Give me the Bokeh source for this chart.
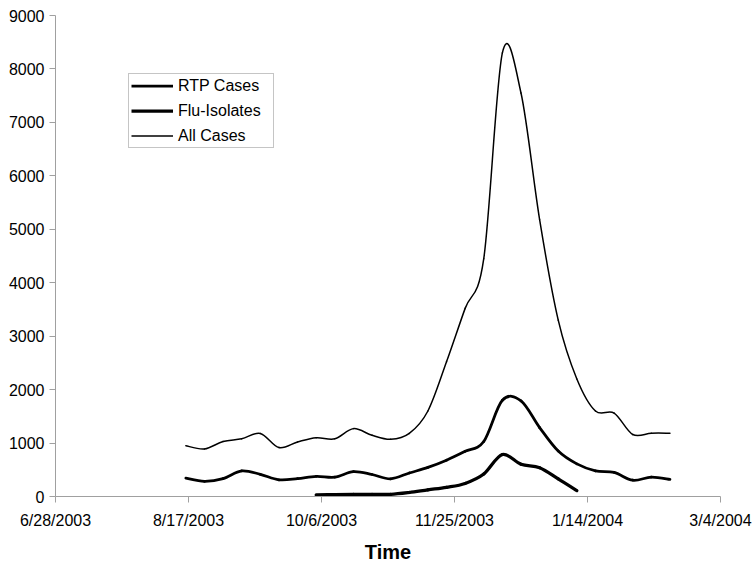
import pandas as pd
from bokeh.plotting import figure
from bokeh.models import Range1d, FixedTicker, ColumnDataSource, Legend, LegendItem
from bokeh.embed import file_html
from bokeh.resources import INLINE

# ---- data (weekly) ----
weeks = ["2003-08-16", "2003-08-23", "2003-08-30", "2003-09-06", "2003-09-13",
         "2003-09-20", "2003-09-27", "2003-10-04", "2003-10-11", "2003-10-18",
         "2003-10-25", "2003-11-01", "2003-11-08", "2003-11-15", "2003-11-22",
         "2003-11-29", "2003-12-06", "2003-12-13", "2003-12-20", "2003-12-27",
         "2004-01-03", "2004-01-10", "2004-01-17", "2004-01-24", "2004-01-31",
         "2004-02-07", "2004-02-14"]
all_cases = [950, 890, 1030, 1080, 1180, 915, 1020, 1100, 1080, 1270, 1145, 1070,
             1180, 1600, 2520, 3520, 4450, 8300, 7550, 5180, 3300, 2200, 1600,
             1560, 1160, 1185, 1185]
rtp_cases = [343, 285, 335, 480, 415, 313, 335, 378, 362, 465, 412, 331, 440,
             545, 680, 845, 1030, 1800, 1790, 1290, 850, 610, 480, 450, 305, 362, 320]
flu_weeks = ["2003-10-04", "2003-10-11", "2003-10-18", "2003-10-25", "2003-11-01",
             "2003-11-08", "2003-11-15", "2003-11-22", "2003-11-29", "2003-12-06",
             "2003-12-13", "2003-12-20", "2003-12-27", "2004-01-03", "2004-01-10"]
flu_isolates = [30, 35, 38, 40, 40, 75, 125, 172, 245, 420, 785, 605, 540, 330, 110]

tick_dates = ["2003-06-28", "2003-08-17", "2003-10-06", "2003-11-25", "2004-01-14", "2004-03-04"]
tick_labels = ["6/28/2003", "8/17/2003", "10/6/2003", "11/25/2003", "1/14/2004", "3/4/2004"]
y_ticks = [0, 1000, 2000, 3000, 4000, 5000, 6000, 7000, 8000, 9000]

FONT = "Liberation Sans"


def to_ms(dates):
    return [int(pd.Timestamp(d).value // 10**6) for d in dates]


def smooth_source(dates, vals):
    """Catmull-Rom style smoothing (like a spreadsheet 'smoothed line'),
    expressed as cubic Bezier segments in data space."""
    xs = to_ms(dates)
    ys = [float(v) for v in vals]
    n = len(xs)
    d = dict(x0=[], y0=[], x1=[], y1=[], cx0=[], cy0=[], cx1=[], cy1=[])
    for i in range(n - 1):
        xp, yp = (xs[i - 1], ys[i - 1]) if i > 0 else (xs[i], ys[i])
        xn, yn = (xs[i + 2], ys[i + 2]) if i + 2 < n else (xs[i + 1], ys[i + 1])
        d["x0"].append(xs[i]); d["y0"].append(ys[i])
        d["x1"].append(xs[i + 1]); d["y1"].append(ys[i + 1])
        d["cx0"].append(xs[i] + (xs[i + 1] - xp) / 6.0)
        d["cy0"].append(ys[i] + (ys[i + 1] - yp) / 6.0)
        d["cx1"].append(xs[i + 1] - (xn - xs[i]) / 6.0)
        d["cy1"].append(ys[i + 1] - (yn - ys[i]) / 6.0)
    return ColumnDataSource(d)


tick_ms = to_ms(tick_dates)

p = figure(frame_width=665, frame_height=481,
           x_axis_type="datetime",
           x_range=Range1d(tick_ms[0], tick_ms[-1]),
           y_range=Range1d(y_ticks[0], y_ticks[-1]),
           output_backend="svg", toolbar_location=None,
           min_border_left=55, min_border_right=34, min_border_top=15,
           min_border_bottom=10)
p.outline_line_color = None
p.grid.visible = False
p.background_fill_color = "white"

styles = [
    ("RTP Cases", weeks, rtp_cases, 2.75),
    ("Flu-Isolates", flu_weeks, flu_isolates, 3.25),
    ("All Cases", weeks, all_cases, 1.5),
]
items = []
nan = float("nan")
for label, dts, vals, w in styles:
    src = smooth_source(dts, vals)
    p.bezier(x0="x0", y0="y0", x1="x1", y1="y1", cx0="cx0", cy0="cy0",
             cx1="cx1", cy1="cy1", source=src, line_color="black",
             line_width=w, line_cap="round", line_join="round")
    key = p.line(x=[nan, nan], y=[nan, nan], line_color="black", line_width=w)
    items.append(LegendItem(label=label, renderers=[key]))

legend = Legend(items=items, location=(73, 348))
legend.border_line_color = "#8c8c8c"
legend.border_line_width = 1
legend.background_fill_color = "white"
legend.background_fill_alpha = 1.0
legend.label_text_font = FONT
legend.label_text_font_size = "16px"
legend.label_text_color = "black"
legend.glyph_width = 42
legend.glyph_height = 19
legend.label_height = 19
legend.label_width = 93
legend.label_standoff = 5
legend.padding = 2
legend.spacing = 6
legend.margin = 0
p.add_layout(legend)

# x axis
xa = p.xaxis[0]
xa.ticker = FixedTicker(ticks=tick_ms)
xa.major_label_overrides = {t: l for t, l in zip(tick_ms, tick_labels)}
xa.axis_label = "Time"
xa.axis_label_text_font = FONT
xa.axis_label_text_font_size = "20px"
xa.axis_label_text_font_style = "bold"
xa.axis_label_text_color = "black"
xa.axis_label_standoff = 9
xa.major_label_standoff = 9
xa.major_label_text_font = FONT
xa.major_label_text_font_size = "16px"
xa.major_label_text_color = "black"

# y axis
ya = p.yaxis[0]
ya.ticker = FixedTicker(ticks=y_ticks)
ya.major_label_standoff = 5
ya.major_label_text_font = FONT
ya.major_label_text_font_size = "16px"
ya.major_label_text_color = "black"

for ax in (xa, ya):
    ax.axis_line_color = "#a0a0a0"
    ax.axis_line_width = 1
    ax.major_tick_line_color = "#a0a0a0"
    ax.major_tick_in = 0
    ax.major_tick_out = 6
    ax.minor_tick_line_color = None

with open("out.html", "w") as f:
    f.write(file_html(p, INLINE))
